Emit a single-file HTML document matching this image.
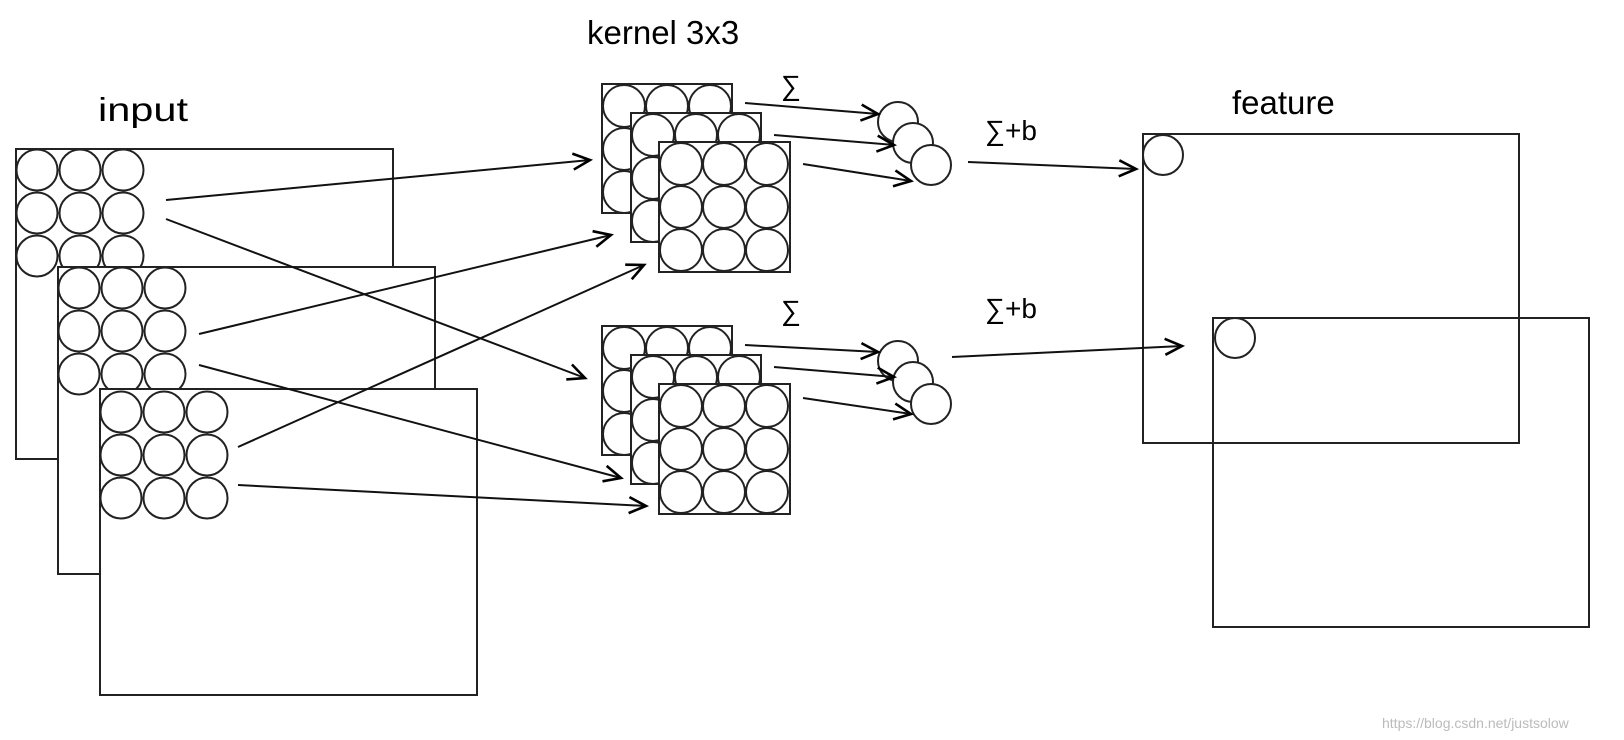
<!DOCTYPE html>
<html><head><meta charset="utf-8"><style>
html,body{margin:0;padding:0;background:#fff;}
svg{display:block}
text{font-family:"Liberation Sans",sans-serif;fill:#000}
</style></head><body>
<svg id="s" width="1624" height="740" viewBox="0 0 1624 740" xmlns="http://www.w3.org/2000/svg">
<defs>
<marker id="a" markerWidth="26" markerHeight="22" refX="21" refY="11" orient="auto" markerUnits="userSpaceOnUse">
<polyline points="4,3 21,11 4,19" fill="none" stroke="#000" stroke-width="2.6"/>
</marker>
</defs>
<g id="g" stroke="#222" stroke-width="2" fill="#fff"></g>
<g stroke="#111" stroke-width="2" fill="none" marker-end="url(#a)">
<line x1="166" y1="200" x2="590" y2="160"/>
<line x1="166" y1="219" x2="585" y2="378"/>
<line x1="199" y1="334" x2="611" y2="235"/>
<line x1="199" y1="365" x2="621" y2="478"/>
<line x1="238" y1="447" x2="644" y2="265"/>
<line x1="238" y1="485" x2="646" y2="506"/>
<line x1="745" y1="103" x2="878" y2="114"/>
<line x1="774" y1="135" x2="894" y2="145"/>
<line x1="803" y1="164" x2="911" y2="181"/>
<line x1="745" y1="345" x2="878" y2="352"/>
<line x1="774" y1="367" x2="894" y2="377"/>
<line x1="803" y1="398" x2="911" y2="414"/>
<line x1="968" y1="162" x2="1136" y2="169"/>
<line x1="952" y1="357" x2="1182" y2="346"/>
</g>
<text x="98" y="121" font-size="33" textLength="90" lengthAdjust="spacingAndGlyphs">input</text>
<text x="587" y="44" font-size="33">kernel 3x3</text>
<text x="1232" y="114" font-size="33">feature</text>
<text x="781" y="95" font-size="28">∑</text>
<text x="781" y="320" font-size="28">∑</text>
<text x="985" y="140" font-size="28">∑+b</text>
<text x="985" y="318" font-size="28">∑+b</text>
<text x="1382" y="728" font-size="14" style="fill:#bbb">https://blog.csdn.net/justsolow</text>
</svg>
<script>
var g=document.getElementById('g'),NS='http://www.w3.org/2000/svg';
function R(x,y,w,h){var e=document.createElementNS(NS,'rect');e.setAttribute('x',x);e.setAttribute('y',y);e.setAttribute('width',w);e.setAttribute('height',h);g.appendChild(e);}
function C(x,y,r){var e=document.createElementNS(NS,'circle');e.setAttribute('cx',x);e.setAttribute('cy',y);e.setAttribute('r',r);g.appendChild(e);}
function G(x,y,s,r){for(var j=0;j<3;j++)for(var i=0;i<3;i++)C(x+i*s,y+j*s,r);}
R(16,149,377,310);G(37,170,43,20.5);
R(58,267,377,307);G(79,288,43,20.5);
R(100,389,377,306);G(121,412,43,20.5);
[0,242].forEach(function(d){
R(602,84+d,130,129);G(624,106+d,43,21);
R(631,113+d,130,129);G(653,135+d,43,21);
R(659,142+d,131,130);G(681,164+d,43,21);
var dd=d?-3:0;
C(898,122+d+dd,20);C(913,143+d+dd,20);C(931,165+d+dd,20);
});
R(1143,134,376,309);C(1163,155,20);
var e=document.createElementNS(NS,'rect');e.setAttribute('x',1213);e.setAttribute('y',318);e.setAttribute('width',376);e.setAttribute('height',309);e.setAttribute('fill','none');g.appendChild(e);
C(1235,338,20);
</script>
</body></html>
